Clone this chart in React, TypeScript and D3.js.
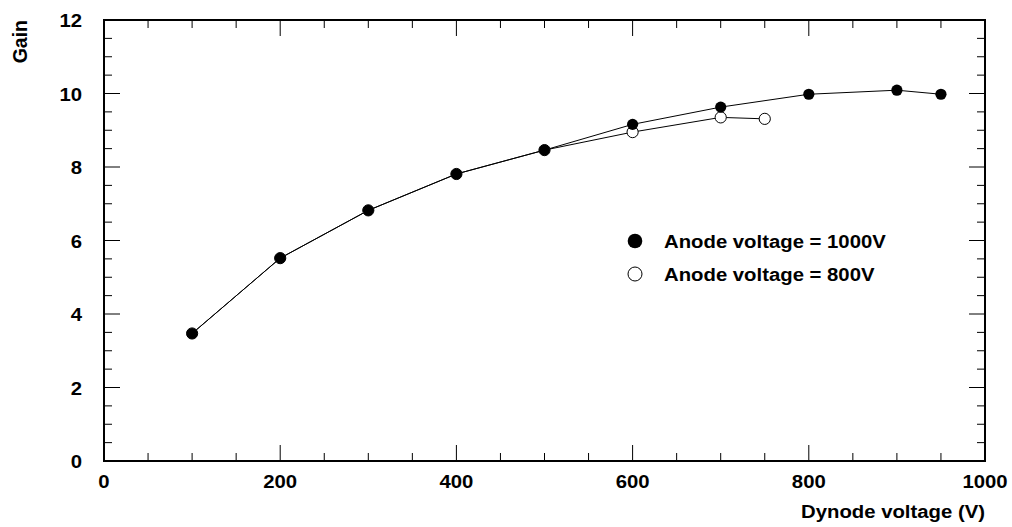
import * as d3 from 'd3';
import React, { useEffect, useRef } from 'react';

// Gain vs dynode voltage, two anode voltages
const dynodeFull = [100, 200, 300, 400, 500, 600, 700, 800, 900, 950];
const gainFull = [3.47, 5.52, 6.82, 7.81, 8.46, 9.16, 9.63, 9.98, 10.09, 9.98];

const dynodeLow = [100, 200, 300, 400, 500, 600, 700, 750];
const gainLow = [3.47, 5.52, 6.82, 7.81, 8.46, 8.95, 9.35, 9.31];

const xTicks = [0, 200, 400, 600, 800, 1000];
const yTicks = [0, 2, 4, 6, 8, 10, 12];

const legendLabels = ['Anode voltage = 1000V', 'Anode voltage = 800V'];

const W = 1012;
const H = 527;
const FONT = "'Liberation Sans', Arial, Helvetica, sans-serif";
const SX = 1.07; // the original glyphs are a bit wider than tall

function App() {
    const ref = useRef<SVGSVGElement>(null);

    useEffect(() => {
        const svg = d3.select(ref.current);
        svg.selectAll('*').remove();

        const left = 104, right = 985, top = 20, bottom = 461;
        const x = d3.scaleLinear().domain([0, 1000]).range([left, right]);
        const y = d3.scaleLinear().domain([0, 12]).range([bottom, top]);

        const g = svg.append('g');

        // ticks on all four sides, pointing inwards
        const xMinor = d3.range(0, 1001, 50);
        const yMinor = d3.range(0, 12.01, 0.5);
        const isMajorX = (v: number) => v % 200 === 0;
        const isMajorY = (v: number) => Math.abs(v % 2) < 1e-6;

        const ticks = g.append('g').attr('stroke', '#000').attr('stroke-width', 1);
        xMinor.forEach(v => {
            const len = isMajorX(v) ? 16 : 8;
            ticks.append('line').attr('x1', x(v)).attr('x2', x(v)).attr('y1', bottom).attr('y2', bottom - len);
            ticks.append('line').attr('x1', x(v)).attr('x2', x(v)).attr('y1', top).attr('y2', top + len);
        });
        yMinor.forEach(v => {
            const len = isMajorY(v) ? 16 : 8;
            ticks.append('line').attr('x1', left).attr('x2', left + len).attr('y1', y(v)).attr('y2', y(v));
            ticks.append('line').attr('x1', right).attr('x2', right - len).attr('y1', y(v)).attr('y2', y(v));
        });

        g.append('rect')
            .attr('x', left).attr('y', top)
            .attr('width', right - left).attr('height', bottom - top)
            .attr('fill', 'none').attr('stroke', '#000').attr('stroke-width', 2);

        const text = (px: number, py: number, s: string, anchor: string, size = 19) =>
            g.append('text')
                .attr('transform', `translate(${px},${py}) scale(${SX},1)`)
                .attr('text-anchor', anchor)
                .style('font-family', FONT)
                .style('font-weight', 'bold')
                .style('font-size', size + 'px')
                .text(s);

        xTicks.forEach(v => text(x(v), 488, String(v), 'middle'));
        yTicks.forEach(v => text(82, y(v) + 7, String(v), 'end'));

        text(right, 518, 'Dynode voltage (V)', 'end');
        g.append('text')
            .attr('transform', `translate(27,${top}) rotate(-90)`)
            .attr('text-anchor', 'end')
            .style('font-family', FONT)
            .style('font-weight', 'bold')
            .style('font-size', '19.5px')
            .text('Gain');

        const line = d3.line<number>().x(d => x(d[0])).y(d => y(d[1]));

        // 800V first so the 1000V markers sit on top where they coincide
        const low = dynodeLow.map((d, i) => [d, gainLow[i]]);
        const full = dynodeFull.map((d, i) => [d, gainFull[i]]);

        g.append('path').datum(low).attr('d', line as any)
            .attr('fill', 'none').attr('stroke', '#000').attr('stroke-width', 1);
        g.append('path').datum(full).attr('d', line as any)
            .attr('fill', 'none').attr('stroke', '#000').attr('stroke-width', 1);

        g.selectAll('circle.low').data(low).enter().append('circle')
            .attr('cx', d => x(d[0])).attr('cy', d => y(d[1])).attr('r', 5.6)
            .attr('fill', '#fff').attr('stroke', '#000').attr('stroke-width', 1);
        g.selectAll('circle.full').data(full).enter().append('circle')
            .attr('cx', d => x(d[0])).attr('cy', d => y(d[1])).attr('r', 5.6)
            .attr('fill', '#000');

        // legend
        const lx = 635, ly = [241, 274];
        g.append('circle').attr('cx', lx).attr('cy', ly[0]).attr('r', 7.3).attr('fill', '#000');
        g.append('circle').attr('cx', lx).attr('cy', ly[1]).attr('r', 7)
            .attr('fill', '#fff').attr('stroke', '#000').attr('stroke-width', 1);
        legendLabels.forEach((s, i) => text(664, ly[i] + 7, s, 'start'));
    }, []);

    return (
        <svg ref={ref} width={W} height={H} style={{ position: 'absolute', left: 0, top: 0, background: '#fff' }}></svg>
    );
}

export default App;
